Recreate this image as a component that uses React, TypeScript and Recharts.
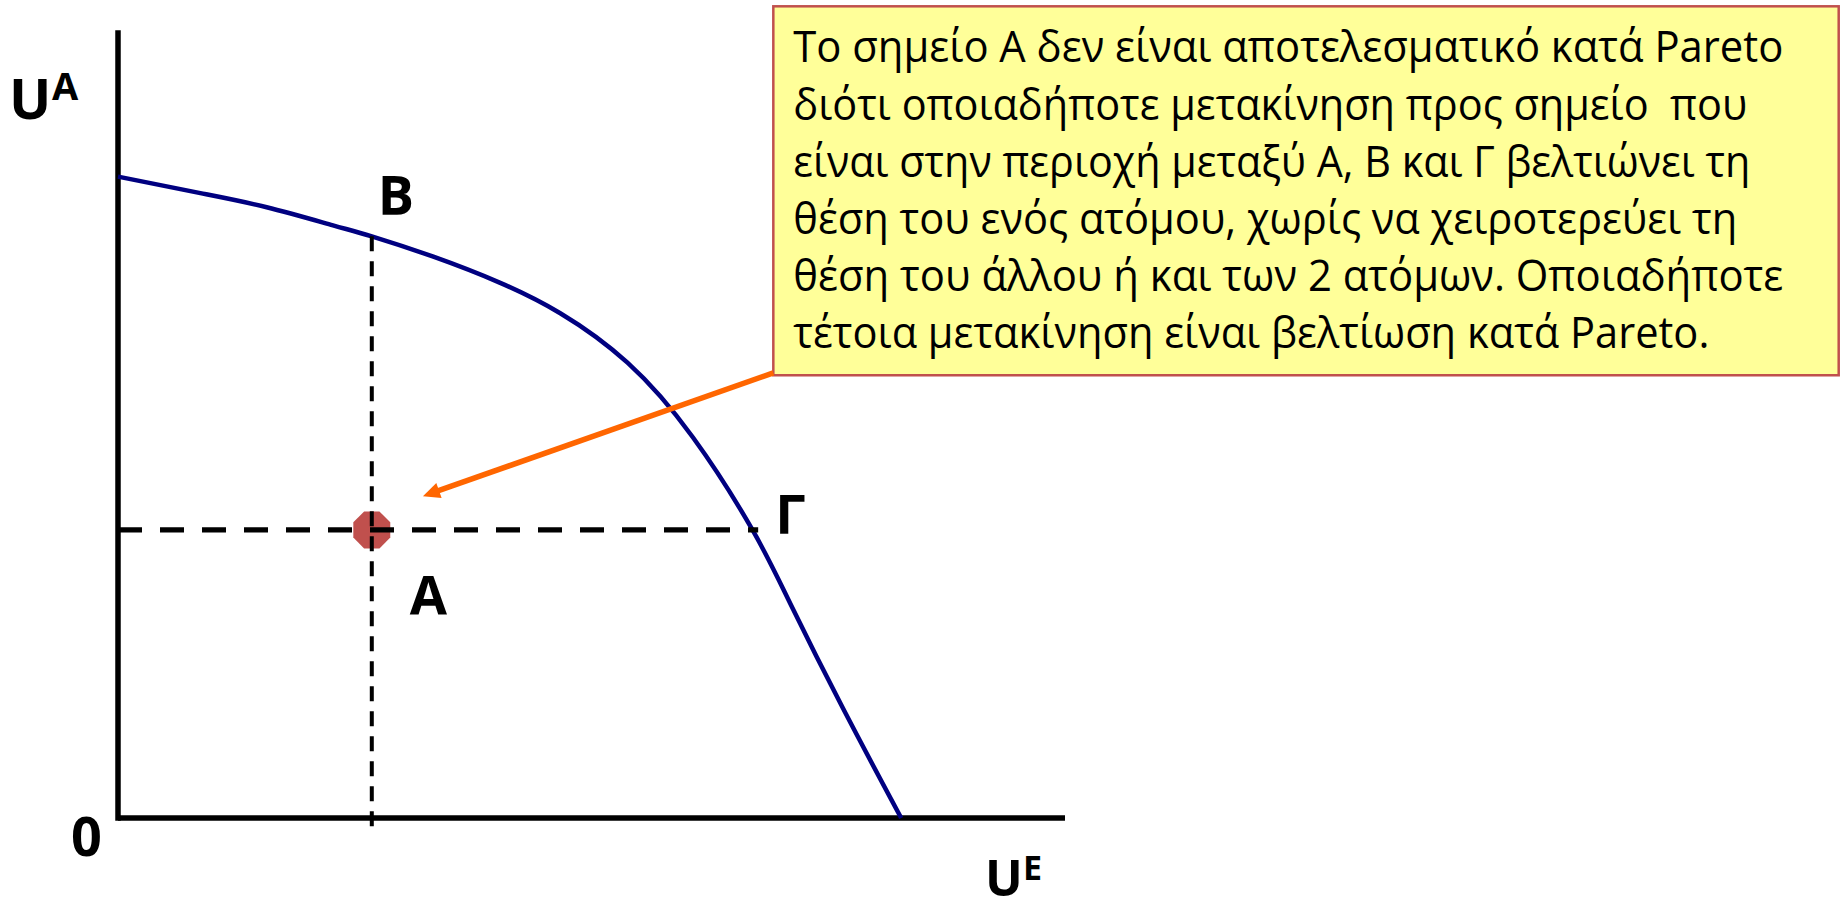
import React from 'react';
import {
  ComposedChart,
  Line,
  XAxis,
  YAxis,
  Scatter,
  ReferenceLine,
  ReferenceArea,
  ReferenceDot,
} from 'recharts';

// ---- data (utility units, 0..100 on each axis) ----
const frontierUE = [0, 8.7, 15.7, 22.7, 26.8, 33.3, 40.3, 46.7, 53.8, 60.7, 67.0, 71.0, 76.5, 82.7];
const frontierUA = [81.7, 79.6, 77.8, 75.5, 74.1, 71.5, 68.2, 64.3, 58.0, 48.5, 36.7, 27.3, 14.1, 0];

const pointA = { uE: 26.8, uA: 36.7 };
const pointB = { uE: 26.8, uA: 74.1 };
const pointG = { uE: 67.6, uA: 36.7 };
const verticalBottomUA = -1.3;

const arrowFrom = { uE: 69.2, uA: 56.7 };
const arrowTo = { uE: 32.2, uA: 41.0 };

const boxUE = [69.2, 181.7];
const boxUA = [56.4, 103.4];

const noteLines = [
  'Το σημείο Α δεν είναι αποτελεσματικό κατά Pareto',
  'διότι οποιαδήποτε μετακίνηση προς σημείο  που',
  'είναι στην περιοχή μεταξύ Α, Β και Γ βελτιώνει τη',
  'θέση του ενός ατόμου, χωρίς να χειροτερεύει τη',
  'θέση του άλλου ή και των 2 ατόμων. Οποιαδήποτε',
  'τέτοια μετακίνηση είναι βελτίωση κατά Pareto.',
];

const frontier = frontierUE.map((x, i) => ({ uE: x, uA: frontierUA[i] }));
const dotData = [pointA];

// ---- styles / layout ----
const LINE_WIDTHS = [990, 954, 957, 944, 990, 916];
const TEXT_FONT = '"Open Sans", "Noto Sans", "DejaVu Sans", sans-serif';
const LABEL_FONT = '"Open Sans", "Noto Sans", "DejaVu Sans", sans-serif';

const NoteBox = (p: any) => {
  const { x, y, width, height } = p;
  if (x == null) return null;
  return (
    <g>
      <rect x={x} y={y} width={width} height={height} fill="#FFFF99" stroke="#C0504D" strokeWidth={2.5} />
      {noteLines.map((t, i) => (
        <text
          key={i}
          x={x + 20}
          y={y + 56 + i * 57.2}
          fontFamily={TEXT_FONT}
          fontSize={43}
          fill="#000"
          textLength={LINE_WIDTHS[i]}
          lengthAdjust="spacingAndGlyphs"
          style={{ whiteSpace: 'pre' }}
        >
          {t}
        </text>
      ))}
    </g>
  );
};

const ArrowShape = (p: any) => {
  const { x1, y1, x2, y2 } = p;
  if (x1 == null || x2 == null) return null;
  const ang = Math.atan2(y2 - y1, x2 - x1);
  const L = 17;
  const W = 8;
  const c = Math.cos(ang);
  const s = Math.sin(ang);
  const bx = x2 - L * c;
  const by = y2 - L * s;
  const pts = `${x2},${y2} ${bx - W * s},${by + W * c} ${bx + W * s},${by - W * c}`;
  return (
    <g>
      <line x1={x1} y1={y1} x2={bx + 2 * c} y2={by + 2 * s} stroke="#FF6600" strokeWidth={5.5} />
      <polygon points={pts} fill="#FF6600" />
    </g>
  );
};

const Octagon = (p: any) => {
  const { cx, cy } = p;
  if (cx == null) return null;
  const R = 20;
  const pts = Array.from({ length: 8 }, (_, k) => {
    const a = ((22.5 + 45 * k) * Math.PI) / 180;
    return `${cx + R * Math.cos(a)},${cy + R * Math.sin(a)}`;
  }).join(' ');
  return <polygon points={pts} fill="#C0504D" />;
};

const makeLabel = (
  main: string,
  dx: number,
  dy: number,
  size = 54,
  sup?: string,
  sdx = 0,
  sdy = 0,
  ssize = 36,
) =>
  (p: any) => {
    const { cx, cy } = p;
    if (cx == null) return null;
    return (
      <g>
        <text x={cx + dx} y={cy + dy} fontFamily={LABEL_FONT} fontWeight={700} fill="#000" fontSize={size}>
          {main}
        </text>
        {sup ? (
          <text x={cx + sdx} y={cy + sdy} fontFamily={LABEL_FONT} fontWeight={700} fill="#000" fontSize={ssize}>
            {sup}
          </text>
        ) : null}
      </g>
    );
  };

export default function App() {
  return (
    <div style={{ position: 'absolute', left: 0, top: 0, width: 1841, height: 910, background: '#fff' }}>
      <ComposedChart
        width={1841}
        height={910}
        margin={{ top: 33, left: 118, right: 776, bottom: 92 }}
      >
        <XAxis type="number" dataKey="uE" domain={[0, 100]} hide />
        <YAxis type="number" dataKey="uA" domain={[0, 100]} hide />
        <ReferenceArea
          x1={boxUE[0]}
          x2={boxUE[1]}
          y1={boxUA[0]}
          y2={boxUA[1]}
          ifOverflow="visible"
          shape={NoteBox}
          zIndex={50}
        />
        <ReferenceLine
          segment={[
            { x: 0, y: 0 },
            { x: 100, y: 0 },
          ]}
          stroke="#000"
          strokeWidth={5.5}
          ifOverflow="visible"
          zIndex={300}
        />
        <ReferenceLine
          segment={[
            { x: 0, y: 100 },
            { x: 0, y: 0 },
          ]}
          stroke="#000"
          strokeWidth={5.5}
          strokeLinecap="square"
          ifOverflow="visible"
          zIndex={300}
        />
        <Line
          data={frontier}
          dataKey="uA"
          type="natural"
          stroke="#000080"
          strokeWidth={4.5}
          dot={false}
          activeDot={false}
          isAnimationActive={false}
          zIndex={400}
        />
        <ReferenceLine
          segment={[
            { x: arrowFrom.uE, y: arrowFrom.uA },
            { x: arrowTo.uE, y: arrowTo.uA },
          ]}
          ifOverflow="visible"
          shape={ArrowShape}
          zIndex={450}
        />
        <Scatter data={dotData} shape={Octagon} isAnimationActive={false} zIndex={600} />
        <ReferenceLine
          segment={[
            { x: 0, y: pointA.uA },
            { x: pointG.uE, y: pointG.uA },
          ]}
          stroke="#000"
          strokeWidth={5.3}
          strokeDasharray="24 18"
          ifOverflow="visible"
          zIndex={700}
        />
        <ReferenceLine
          segment={[
            { x: pointB.uE, y: pointB.uA },
            { x: pointA.uE, y: verticalBottomUA },
          ]}
          stroke="#000"
          strokeWidth={4}
          strokeDasharray="15 10"
          ifOverflow="visible"
          zIndex={700}
        />
        <ReferenceDot x={pointB.uE} y={pointB.uA} ifOverflow="visible" shape={makeLabel('Β', 6, -21)} zIndex={2000} />
        <ReferenceDot x={pointA.uE} y={pointA.uA} ifOverflow="visible" shape={makeLabel('Α', 38, 85)} zIndex={2000} />
        <ReferenceDot x={pointG.uE} y={pointG.uA} ifOverflow="visible" shape={makeLabel('Γ', 17, 4)} zIndex={2000} />
        <ReferenceDot x={0} y={0} ifOverflow="visible" shape={makeLabel('0', -47, 38)} zIndex={2000} />
        <ReferenceDot
          x={0}
          y={100}
          ifOverflow="visible"
          shape={makeLabel('U', -109, 86, 56, 'A', -66, 67, 38)}
          zIndex={2000}
        />
        <ReferenceDot
          x={100}
          y={0}
          ifOverflow="visible"
          shape={makeLabel('U', -80, 78, 50, 'E', -42, 62, 34)}
          zIndex={2000}
        />
      </ComposedChart>
    </div>
  );
}
